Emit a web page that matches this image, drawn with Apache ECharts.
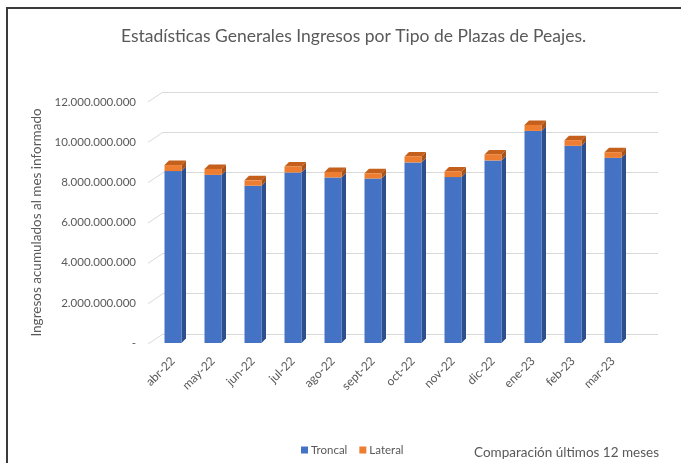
<!DOCTYPE html>
<html>
<head>
<meta charset="utf-8">
<script src="https://cdn.jsdelivr.net/npm/echarts@6/dist/echarts.min.js"></script>
<style>
html,body{margin:0;padding:0;background:#fff;}
#c{width:681px;height:463px;}
</style>
</head>
<body>
<div id="c"></div>
<script>
// ---- data ----
const categories = ['abr-22','may-22','jun-22','jul-22','ago-22','sept-22','oct-22','nov-22','dic-22','ene-23','feb-23','mar-23'];
const troncal = [8.56e9, 8.37e9, 7.83e9, 8.49e9, 8.24e9, 8.19e9, 8.99e9, 8.26e9, 9.09e9, 10.56e9, 9.82e9, 9.22e9];
const lateral = [0.30e9, 0.30e9, 0.27e9, 0.30e9, 0.28e9, 0.26e9, 0.30e9, 0.28e9, 0.30e9, 0.30e9, 0.28e9, 0.28e9];
const yTicks = [0, 2e9, 4e9, 6e9, 8e9, 10e9, 12e9];
const titleText = 'Estadísticas Generales Ingresos por Tipo de Plazas de Peajes.';
const yName = 'Ingresos acumulados al mes informado';
const noteText = 'Comparación últimos 12 meses';

const FONT = 'Lato, "Open Sans", sans-serif';
const TXT = '#595959';
const DX = 4.5, DY = 4.5;

function fmt(v){
  if (v === 0) return '-';
  return String(Math.round(v)).replace(/\B(?=(\d{3})+(?!\d))/g, '.');
}

const chart = echarts.init(document.getElementById('c'));

const option = {
  animation: false,
  textStyle: { fontFamily: FONT },
  title: [
    { text: titleText, left: 116, top: 22,
      textStyle: { fontSize: 17.5, fontWeight: 'normal', color: TXT, fontFamily: FONT } },
    { text: noteText, left: 469, top: 441,
      textStyle: { fontSize: 13.5, fontWeight: 'normal', color: TXT, fontFamily: FONT } }
  ],
  legend: {
    data: ['Troncal', 'Lateral'],
    left: 296, top: 439,
    icon: 'rect', itemWidth: 7, itemHeight: 7, itemGap: 12,
    textStyle: { fontSize: 11.5, color: TXT, fontFamily: FONT, padding: [0,0,0,-2] }
  },
  graphic: [{
    type: 'rect', z: -10, silent: true,
    shape: { x: 7, y: 8, width: 720, height: 520 },
    style: { fill: 'none', stroke: '#3a3a3a', lineWidth: 2 }
  }],
  grid: [
    { left: 163, right: 23, top: 92, bottom: 129 },   // back wall
    { left: 153, right: 48, top: 102, bottom: 120 }   // front / bars
  ],
  xAxis: [
    { gridIndex: 0, type: 'category', data: categories, show: false },
    { gridIndex: 1, type: 'category', data: categories,
      axisLine: { show: false }, axisTick: { show: false },
      axisLabel: { rotate: 45, fontSize: 12, color: TXT, margin: 16, interval: 0, fontFamily: FONT } }
  ],
  yAxis: [
    { gridIndex: 0, type: 'value', min: 0, max: 12e9, interval: 2e9,
      axisLine: { show: false }, axisTick: { show: false }, axisLabel: { show: false },
      splitLine: { lineStyle: { color: '#d9d9d9', width: 1 } } },
    { gridIndex: 1, type: 'value', min: 0, max: 12e9, interval: 2e9,
      axisLine: { show: false }, axisTick: { show: false }, splitLine: { show: false },
      axisLabel: { formatter: fmt, fontSize: 11.5, color: TXT, margin: 17, fontFamily: FONT },
      name: yName, nameLocation: 'middle', nameGap: 98, nameRotate: 90,
      nameTextStyle: { fontSize: 13.5, color: TXT, fontFamily: FONT } }
  ],
  series: [
    {
      type: 'custom', name: 'walls', xAxisIndex: 0, yAxisIndex: 0, silent: true, z: 1,
      data: yTicks.map(v => [0, v]),
      renderItem: function (params, api) {
        const p = api.coord([0, api.value(1)]);
        const left = p[0] - api.size([1, 0])[0] / 2;
        return { type: 'line', shape: { x1: left - 15, y1: p[1] + 10, x2: left, y2: p[1] },
                 style: { stroke: '#d9d9d9', lineWidth: 1 } };
      }
    },
    {
      type: 'custom', name: 'Troncal', xAxisIndex: 1, yAxisIndex: 1, z: 3,
      itemStyle: { color: '#4472C4' },
      data: categories.map((c, i) => [i, troncal[i]]),
      renderItem: function (params, api) {
        const i = api.value(0);
        const b = api.coord([i, 0]);
        const t = api.coord([i, api.value(1)]);
        const w = api.size([1, 0])[0] * 0.425;
        const xl = b[0] - w / 2, xr = b[0] + w / 2;
        return { type: 'group', children: [
          { type: 'polygon', shape: { points: [[xr, t[1]], [xr + DX, t[1] - DY], [xr + DX, b[1] - DY], [xr, b[1]]] },
            style: { fill: '#2E4F8E' } },
          { type: 'rect', shape: { x: xl, y: t[1], width: w, height: b[1] - t[1] },
            style: { fill: '#4472C4' } }
        ]};
      }
    },
    {
      type: 'custom', name: 'Lateral', xAxisIndex: 1, yAxisIndex: 1, z: 3,
      itemStyle: { color: '#ED7D31' },
      data: categories.map((c, i) => [i, troncal[i], lateral[i]]),
      renderItem: function (params, api) {
        const i = api.value(0);
        const base = api.value(1);
        const b = api.coord([i, base]);
        const t = api.coord([i, base + api.value(2)]);
        const w = api.size([1, 0])[0] * 0.425;
        const xl = b[0] - w / 2, xr = b[0] + w / 2;
        return { type: 'group', children: [
          { type: 'polygon', shape: { points: [[xr, t[1]], [xr + DX, t[1] - DY], [xr + DX, b[1] - DY], [xr, b[1]]] },
            style: { fill: '#A9531A' } },
          { type: 'polygon', shape: { points: [[xl, t[1]], [xl + DX, t[1] - DY], [xr + DX, t[1] - DY], [xr, t[1]]] },
            style: { fill: '#C45F1C' } },
          { type: 'rect', shape: { x: xl, y: t[1], width: w, height: b[1] - t[1] },
            style: { fill: '#ED7D31' } }
        ]};
      }
    }
  ]
};
chart.setOption(option);
</script>
</body>
</html>
